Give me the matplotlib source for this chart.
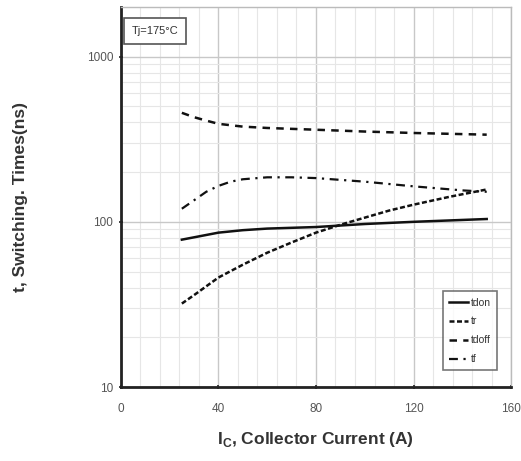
import matplotlib
matplotlib.use("Agg")
import matplotlib.pyplot as plt
from matplotlib.ticker import MultipleLocator, LogLocator, FixedLocator, NullFormatter

ic_tdon = [25, 40, 50, 60, 80, 100, 120, 150]
tdon = [78, 86, 89, 91, 93, 97, 100, 104]
ic_tr = [25, 30, 40, 50, 60, 70, 80, 91, 100, 110, 120, 135, 150]
tr = [32, 36, 46, 55, 65, 75, 86, 97, 106, 117, 127, 142, 157]
ic_tdoff = [25, 30, 35, 40, 50, 60, 80, 100, 120, 150]
tdoff = [457, 430, 410, 392, 377, 370, 361, 352, 345, 337]
ic_tf = [25, 30, 35, 40, 45, 50, 60, 70, 80, 100, 120, 140, 150]
tf = [120, 135, 152, 165, 175, 181, 186, 186, 184, 175, 164, 155, 152]

xticks = [0, 40, 80, 120, 160]
yticks = [10, 100, 1000]

fig = plt.figure(figsize=(5.21, 4.61), dpi=100)
ax = fig.add_axes([0.232, 0.1605, 0.749, 0.8245])
ax.set_yscale('log')
ax.set_xlim(0, 160)
ax.set_ylim(10, 2000)

ax.plot(ic_tdon, tdon, color='#111111', lw=1.8, ls='-', label='tdon')
ax.plot(ic_tr, tr, color='#111111', lw=1.8, ls=(0, (2, 1)), label='tr')
ax.plot(ic_tdoff, tdoff, color='#111111', lw=1.8, ls=(0, (3, 2.5)), label='tdoff')
ax.plot(ic_tf, tf, color='#111111', lw=1.6, ls=(0, (4, 2.5, 1, 2.5)), label='tf')

ax.xaxis.set_major_locator(FixedLocator(xticks))
ax.xaxis.set_minor_locator(MultipleLocator(8))
ax.yaxis.set_major_locator(FixedLocator(yticks))
ax.yaxis.set_minor_locator(LogLocator(base=10, subs=range(2, 10)))
ax.yaxis.set_minor_formatter(NullFormatter())
ax.set_xticklabels([str(v) for v in xticks])
ax.set_yticklabels([str(v) for v in yticks])

ax.grid(which='major', color='#c8c8c8', lw=1.0)
ax.grid(which='minor', color='#e6e6e6', lw=0.8)
ax.set_axisbelow(True)

for lab in ax.get_xticklabels() + ax.get_yticklabels():
    lab.set_fontfamily(['Liberation Sans', 'DejaVu Sans'])
    lab.set_fontsize(8.5)
    lab.set_color('#555555')
ax.tick_params(which='major', length=3, width=1.2, color='#222222', direction='inout')
ax.tick_params(axis='x', which='major', pad=10)
ax.tick_params(axis='y', which='major', pad=4)
ax.tick_params(which='minor', length=0)

for s in ['left', 'bottom']:
    ax.spines[s].set_color('#222222')
    ax.spines[s].set_linewidth(2.0)
for s in ['top', 'right']:
    ax.spines[s].set_color('#bbbbbb')
    ax.spines[s].set_linewidth(1.0)

ax.set_xlabel('I$_\\mathregular{C}$, Collector Current (A)', fontsize=12.5, fontweight='bold',
              family=['Liberation Sans', 'DejaVu Sans'], color='#333333', labelpad=11)
ax.set_ylabel('t, Switching. Times(ns)', fontsize=12.5, fontweight='bold',
              family=['Liberation Sans', 'DejaVu Sans'], color='#333333', labelpad=42)

ax.text(0.028, 0.95, 'Tj=175°C', transform=ax.transAxes, fontsize=8,
        family=['Liberation Sans', 'DejaVu Sans'], color='#333333', va='top', ha='left',
        bbox=dict(boxstyle='square,pad=0.7', fc='white', ec='#555555', lw=1.2))

leg = ax.legend(loc='lower right', bbox_to_anchor=(0.977, 0.03),
                prop={'family': ['Liberation Sans', 'DejaVu Sans'], 'size': 7.5},
                frameon=True, fancybox=False, handlelength=1.8, handletextpad=0.3,
                labelspacing=0.85, borderpad=0.6)
leg.get_frame().set_edgecolor('#555555')
leg.get_frame().set_linewidth(1.2)
for t in leg.get_texts():
    t.set_color('#333333')

fig.savefig('out.png', dpi=100)
